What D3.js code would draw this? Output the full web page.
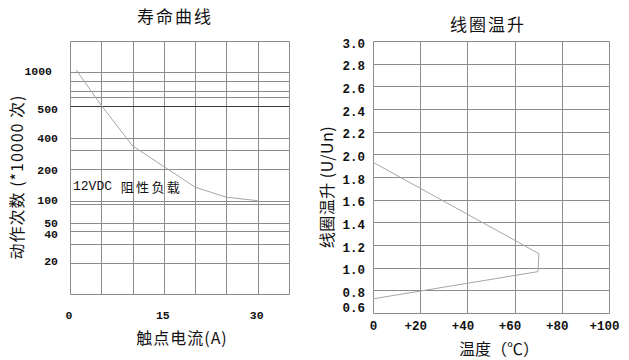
<!DOCTYPE html>
<html>
<head>
<meta charset="utf-8">
<script src="https://cdn.jsdelivr.net/npm/d3@7/dist/d3.min.js"></script>
<style>
  html, body { margin: 0; padding: 0; background: #fff; }
  svg { display: block; }
  .num { font-family: "Liberation Mono", "DejaVu Sans Mono", monospace; fill: #111; font-weight: bold; }
  .cjk { font-family: "Noto Sans CJK SC", "Noto Sans", sans-serif; fill: #111; }
</style>
</head>
<body>
<svg id="chart" width="629" height="360"></svg>
<script>
// ---------- DATA ----------
// Life curve (寿命曲线)
const lifeCurrent = [1, 5, 10, 20, 25, 30];          // 触点电流 (A)
const lifeOps     = [1055, 510, 335, 143, 111, 100];  // 动作次数 (*10000 次)
const lifeXTicks  = [0, 15, 30];
const lifeXGrid   = [0, 5, 10, 15, 20, 25, 30, 35];
const lifeYGrid   = [2000, 1000, 900, 800, 600, 500, 400, 300, 200, 100, 90, 50, 40, 30, 20, 10];
const lifeYTicks  = [1000, 500, 400, 200, 100, 50, 40, 20];
const lifeYMajor  = [500];

// Coil temperature rise (线圈温升)
const riseTemp    = [0, 70.3, 69.9, 0];          // 温度 (℃)
const riseRatio   = [1.93, 1.124, 0.965, 0.725]; // U/Un
const riseXTicks  = [0, 20, 40, 60, 80, 100];
const riseXLabels = ["0", "+20", "+40", "+60", "+80", "+100"];
const riseYTicks  = [0.6, 0.8, 1.0, 1.2, 1.4, 1.6, 1.8, 2.0, 2.2, 2.4, 2.6, 2.8, 3.0];

// ---------- LAYOUT ----------
const svg = d3.select("#chart");
const gridColor = "#8c8c8c";
const curveColor = "#a6a6a6";

// Left plot box
const L = { x0: 70, x1: 289, y0: 41, y1: 294 };
// irregular (hand-drawn) vertical axis: relative position of each grid value
const lifeYStops = [0, 0.1213, 0.1581, 0.1988, 0.2225, 0.2581, 0.3846, 0.4308, 0.5071, 0.6312, 0.6443, 0.7206, 0.7522, 0.8036, 0.8787, 1];
// small nudges of hand-placed tick labels (px)
const lifeLabelNudgeY = { 1000: -0.5, 500: 2.5, 400: -0.5, 200: 0.5, 100: -0.5, 50: -0.5, 40: 3, 20: -2.5 };
const lifeLabelNudgeX = { 1000: -6 };

const xL = d3.scaleLinear().domain([0, 35]).range([L.x0, L.x1]);
const yL = d3.scaleLinear().domain(lifeYGrid)
  .range(lifeYStops.map(f => L.y0 + f * (L.y1 - L.y0)));

// Right plot box
const R = { x0: 373, x1: 609, y0: 41, y1: 313 };
const xR = d3.scaleLinear().domain([0, 100]).range([R.x0, R.x1]);
const yR = d3.scaleLinear().domain([0.6, 3.0]).range([R.y1, R.y0]);

const crisp = v => Math.round(v) + 0.5;

// ---------- LEFT CHART ----------
const gl = svg.append("g");
gl.selectAll(".vg").data(lifeXGrid).enter().append("line")
  .attr("x1", d => crisp(xL(d))).attr("x2", d => crisp(xL(d)))
  .attr("y1", crisp(L.y0)).attr("y2", crisp(L.y1))
  .attr("stroke", gridColor).attr("stroke-width", 1);
gl.selectAll(".hg").data(lifeYGrid).enter().append("line")
  .attr("x1", crisp(L.x0)).attr("x2", crisp(L.x1))
  .attr("y1", d => crisp(yL(d))).attr("y2", d => crisp(yL(d)))
  .attr("stroke", d => lifeYMajor.includes(d) ? "#3a3a3a" : gridColor)
  .attr("stroke-width", 1);

const axL = gl.append("g").attr("transform", `translate(${L.x0},0)`)
  .call(d3.axisLeft(yL).tickValues(lifeYTicks).tickSize(0).tickPadding(12).tickFormat(d3.format("d")));
axL.select(".domain").remove();
axL.selectAll("text").attr("class", "num").attr("font-size", 11.5).style("font-family", null)
  .attr("y", d => lifeLabelNudgeY[d] || 0)
  .attr("dx", d => lifeLabelNudgeX[d] || 0);

const axLB = gl.append("g").attr("transform", `translate(0,${L.y1})`)
  .call(d3.axisBottom(xL).tickValues(lifeXTicks).tickSize(0).tickFormat(d3.format("d")));
axLB.select(".domain").remove();
axLB.selectAll("text").attr("class", "num").attr("font-size", 11.5).style("font-family", null)
  .attr("y", 21).attr("dy", "0.32em").attr("dx", -1.5);

gl.append("path")
  .datum(lifeCurrent.map((c, i) => [c, lifeOps[i]]))
  .attr("d", d3.line().x(d => xL(d[0])).y(d => yL(d[1])))
  .attr("fill", "none").attr("stroke", curveColor).attr("stroke-width", 1);

const ann = gl.append("text").attr("x", L.x0 + 3).attr("y", 186).attr("dominant-baseline", "central");
ann.append("tspan").attr("class", "num").attr("font-size", 13).style("font-weight", "normal").text("12VDC ");
ann.append("tspan").attr("class", "cjk").attr("font-size", 13).attr("dx", 1)
  .attr("letter-spacing", 2.3).text("阻性负载");

gl.append("text").attr("class", "cjk").attr("x", 175).attr("y", 15.5)
  .attr("text-anchor", "middle").attr("dominant-baseline", "central")
  .attr("font-size", 17).attr("letter-spacing", 2).text("寿命曲线");
gl.append("text").attr("class", "cjk").attr("x", 182).attr("y", 337)
  .attr("text-anchor", "middle").attr("dominant-baseline", "central")
  .attr("font-size", 16).attr("letter-spacing", 1).text("触点电流(A)");
gl.append("text").attr("class", "cjk")
  .attr("transform", "translate(16,177) rotate(-90)")
  .attr("text-anchor", "middle").attr("dominant-baseline", "central")
  .attr("font-size", 16).attr("letter-spacing", 1).text("动作次数 (*10000 次)");

// ---------- RIGHT CHART ----------
const gr = svg.append("g");
gr.selectAll(".vg").data(riseXTicks).enter().append("line")
  .attr("x1", d => crisp(xR(d))).attr("x2", d => crisp(xR(d)))
  .attr("y1", crisp(R.y0)).attr("y2", crisp(R.y1))
  .attr("stroke", gridColor).attr("stroke-width", 1);
gr.selectAll(".hg").data(riseYTicks).enter().append("line")
  .attr("x1", crisp(R.x0)).attr("x2", crisp(R.x1))
  .attr("y1", d => crisp(yR(d))).attr("y2", d => crisp(yR(d)))
  .attr("stroke", gridColor).attr("stroke-width", 1);

const axR = gr.append("g").attr("transform", `translate(${R.x0},0)`)
  .call(d3.axisLeft(yR).tickValues(riseYTicks).tickSize(0).tickPadding(8).tickFormat(d3.format(".1f")));
axR.select(".domain").remove();
axR.selectAll("text").attr("class", "num").attr("font-size", 12.5).style("font-family", null)
  .attr("dy", (d, i) => i === 0 ? "-0.15em" : "0.5em");

const axRB = gr.append("g").attr("transform", `translate(0,${R.y1})`)
  .call(d3.axisBottom(xR).tickValues(riseXTicks).tickSize(0).tickFormat((d, i) => riseXLabels[i]));
axRB.select(".domain").remove();
axRB.selectAll("text").attr("class", "num").attr("font-size", 12.5).style("font-family", null)
  .attr("y", 12.5).attr("dy", "0.32em").attr("dx", (d, i) => i === 0 ? 0 : -5);

gr.append("path")
  .datum(riseTemp.map((t, i) => [t, riseRatio[i]]))
  .attr("d", d3.line().x(d => xR(d[0])).y(d => yR(d[1])))
  .attr("fill", "none").attr("stroke", curveColor).attr("stroke-width", 1);

gr.append("text").attr("class", "cjk").attr("x", 488).attr("y", 23)
  .attr("text-anchor", "middle").attr("dominant-baseline", "central")
  .attr("font-size", 17).attr("letter-spacing", 2).text("线圈温升");
gr.append("text").attr("class", "cjk").attr("x", 499).attr("y", 348)
  .attr("text-anchor", "middle").attr("dominant-baseline", "central")
  .attr("font-size", 16).text("温度（℃）");
gr.append("text").attr("class", "cjk")
  .attr("transform", "translate(326,187) rotate(-90)")
  .attr("text-anchor", "middle").attr("dominant-baseline", "central")
  .attr("font-size", 16).attr("letter-spacing", 0.5).text("线圈温升 (U/Un)");
</script>
</body>
</html>
